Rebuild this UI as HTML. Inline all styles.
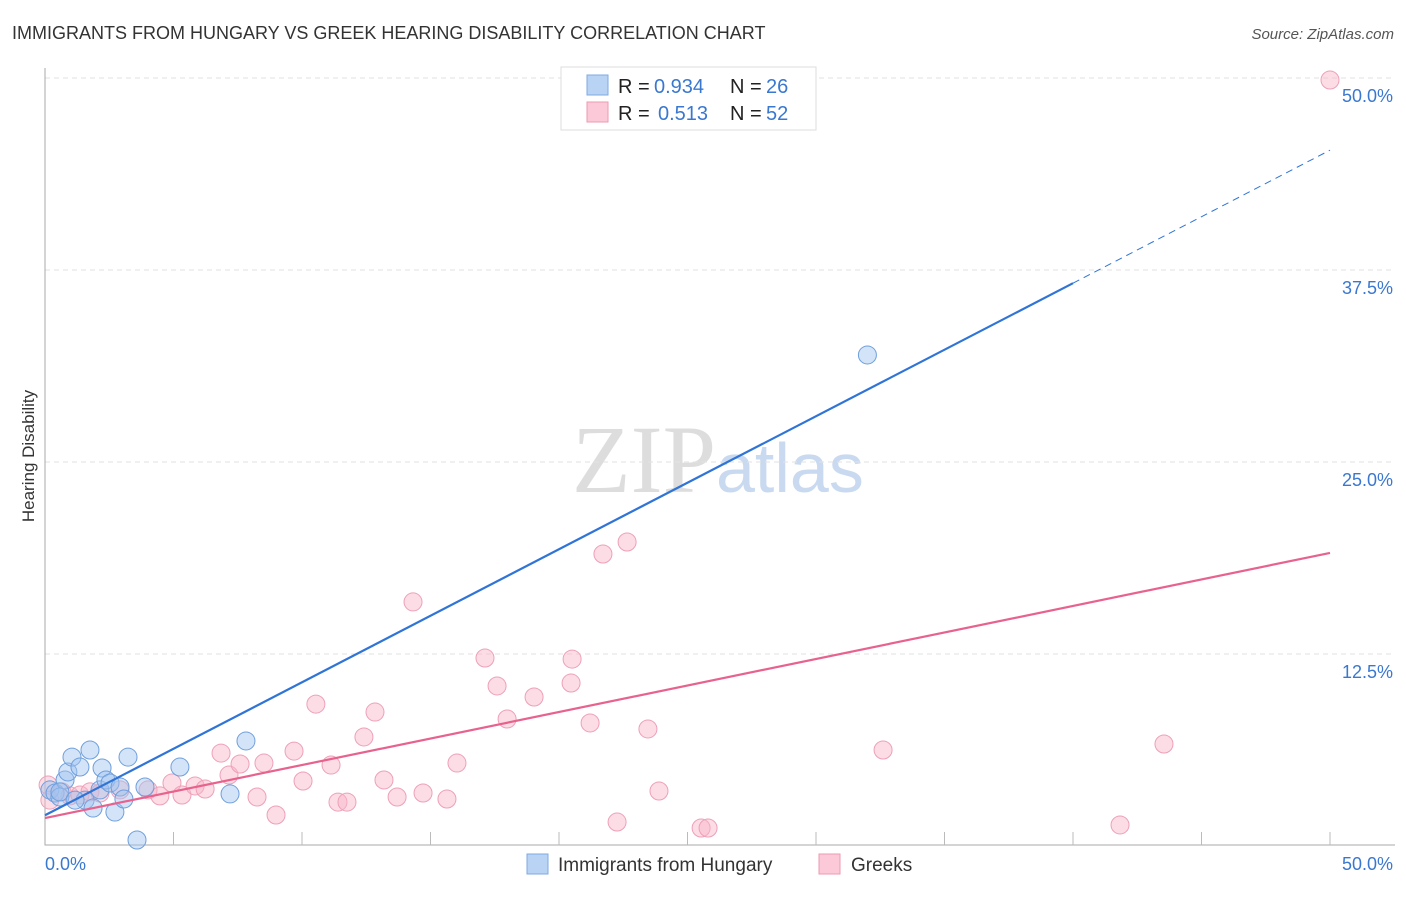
<!DOCTYPE html>
<html><head><meta charset="utf-8"><style>
body{margin:0;background:#fff;font-family:"Liberation Sans",sans-serif}
</style></head><body>
<svg id="c" width="1406" height="892" xmlns="http://www.w3.org/2000/svg" style="font-family:'Liberation Sans',sans-serif">
<text x="12" y="39" font-size="18" fill="#333">IMMIGRANTS FROM HUNGARY VS GREEK HEARING DISABILITY CORRELATION CHART</text>
<text x="1394" y="39" font-size="15" fill="#555" font-style="italic" text-anchor="end">Source: ZipAtlas.com</text>
<text x="34" y="456" font-size="17" fill="#333" transform="rotate(-90 34 456)" text-anchor="middle">Hearing Disability</text>
<text x="716" y="492" font-size="96" fill="#ddd" text-anchor="end" font-family="Liberation Serif,serif">ZIP</text>
<text x="716" y="492" font-size="70" fill="#c9daf0">atlas</text>
<g id="grid"></g><g id="marks"></g><g id="lines"></g>
<g>
<rect x="561" y="67" width="255" height="63" fill="#fff" stroke="#ddd"/>
<rect x="587" y="75" width="21" height="20" fill="#b9d3f5" stroke="#7fa8e0"/>
<rect x="587" y="102" width="21" height="20" fill="#fbc9d7" stroke="#ee9ab2"/>
<text x="618" y="93" font-size="20" fill="#222">R =</text>
<text x="654" y="93" font-size="20" fill="#3a78d0">0.934</text>
<text x="730" y="93" font-size="20" fill="#222">N =</text>
<text x="766" y="93" font-size="20" fill="#3a78d0">26</text>
<text x="618" y="120" font-size="20" fill="#222">R =</text>
<text x="658" y="120" font-size="20" fill="#3a78d0">0.513</text>
<text x="730" y="120" font-size="20" fill="#222">N =</text>
<text x="766" y="120" font-size="20" fill="#3a78d0">52</text>
</g>
<g>
<rect x="527" y="854" width="21" height="20" fill="#b9d3f5" stroke="#7fa8e0"/>
<text x="558" y="871" font-size="19" fill="#333">Immigrants from Hungary</text>
<rect x="819" y="854" width="21" height="20" fill="#fbc9d7" stroke="#ee9ab2"/>
<text x="851" y="871" font-size="19" fill="#333">Greeks</text>
</g>
</svg>
<script>
const blueX=[0.19,0.39,0.58,0.78,0.89,1.05,1.36,1.56,1.75,1.87,2.14,2.22,2.37,2.53,2.72,2.92,3.07,3.23,3.58,3.89,5.25,7.2,7.82,32.0,0.58,1.17];
const blueY=[3.65,3.45,3.19,4.3,4.82,5.79,5.14,2.99,6.25,2.47,3.65,5.08,4.3,4.1,2.21,3.84,3.06,5.79,0.39,3.84,5.14,3.39,6.84,31.97,3.52,2.99];
const pinkX=[0.12,0.19,0.66,0.97,1.36,1.75,2.14,2.92,4.01,4.47,4.94,5.33,5.84,6.23,6.85,7.16,7.59,8.25,8.52,8.99,9.69,10.04,10.54,11.13,11.4,11.75,12.41,12.84,13.19,13.7,14.32,14.71,15.64,16.03,17.12,17.59,17.98,19.03,20.47,20.51,21.21,21.71,22.26,22.65,23.46,23.89,25.53,25.8,32.61,41.83,43.54,50.0];
const pinkY=[3.97,2.99,3.52,3.26,3.32,3.52,3.45,3.65,3.65,3.26,4.1,3.32,3.91,3.71,6.05,4.62,5.34,3.19,5.4,2.02,6.18,4.23,9.24,5.27,2.86,2.86,7.1,8.72,4.3,3.19,15.89,3.45,3.06,5.4,12.24,10.42,8.27,9.7,10.61,12.17,8.01,19.01,1.56,19.79,7.62,3.58,1.17,1.17,6.25,1.37,6.64,49.87];
const yTicks=[12.5,25,37.5,50];
const yTickLabels=["12.5%","25.0%","37.5%","50.0%"];
const xTicks=[5,10,15,20,25,30,35,40,45,50];
const blueTrend=[2.0,0.866];
const pinkTrend=[1.82,0.3452];
const X=v=>45+v*25.7, Y=v=>846-v*15.36;
const NS="http://www.w3.org/2000/svg";
function mk(p,t,a){const e=document.createElementNS(NS,t);for(const k in a)e.setAttribute(k,a[k]);p.appendChild(e);return e;}
const g=document.getElementById('grid'),m=document.getElementById('marks'),l=document.getElementById('lines');
yTicks.forEach((v,i)=>{
 const ln=mk(g,'line',{x1:45,x2:1395,y1:Y(v),y2:Y(v),stroke:'#e2e2e2','stroke-dasharray':'5,4'});
 
 
 const t=mk(g,'text',{x:1393,y:Y(v)+24,'font-size':18,fill:'#3a78d0','text-anchor':'end'});t.textContent=yTickLabels[i];
 
 
});
const ax=mk(g,'path',{d:'M45 68V845H1395',stroke:'#aaa',fill:'none'});


xTicks.forEach(v=>{
 const t=mk(g,'line',{x1:X(v),x2:X(v),y1:832,y2:845,stroke:'#bbb'});
 
 
});
const x0=mk(g,'text',{x:45,y:870,'font-size':18,fill:'#3a78d0'});x0.textContent='0.0%';


const x1=mk(g,'text',{x:1393,y:870,'font-size':18,fill:'#3a78d0','text-anchor':'end'});x1.textContent='50.0%';


pinkX.forEach((x,i)=>{const c=mk(m,'circle',{cx:X(x),cy:Y(pinkY[i]),r:9,fill:'rgba(248,180,200,0.45)',stroke:'#eea0b8','stroke-width':1});
 
 });
blueX.forEach((x,i)=>{const c=mk(m,'circle',{cx:X(x),cy:Y(blueY[i]),r:9,fill:'rgba(160,195,240,0.45)',stroke:'#6f9fdc','stroke-width':1});
 
 });
const b1=mk(l,'line',{x1:X(0),y1:Y(blueTrend[0]),x2:X(40),y2:Y(blueTrend[0]+40*blueTrend[1]),stroke:'#2f74d6','stroke-width':2.2});


const b2=mk(l,'line',{x1:X(40),y1:Y(blueTrend[0]+40*blueTrend[1]),x2:X(50),y2:Y(blueTrend[0]+50*blueTrend[1]),stroke:'#2f74d6','stroke-width':1,'stroke-dasharray':'7,5'});


const p1=mk(l,'line',{x1:X(0),y1:Y(pinkTrend[0]),x2:X(50),y2:Y(pinkTrend[0]+50*pinkTrend[1]),stroke:'#e8628e','stroke-width':2.2});


</script>
</body></html>
